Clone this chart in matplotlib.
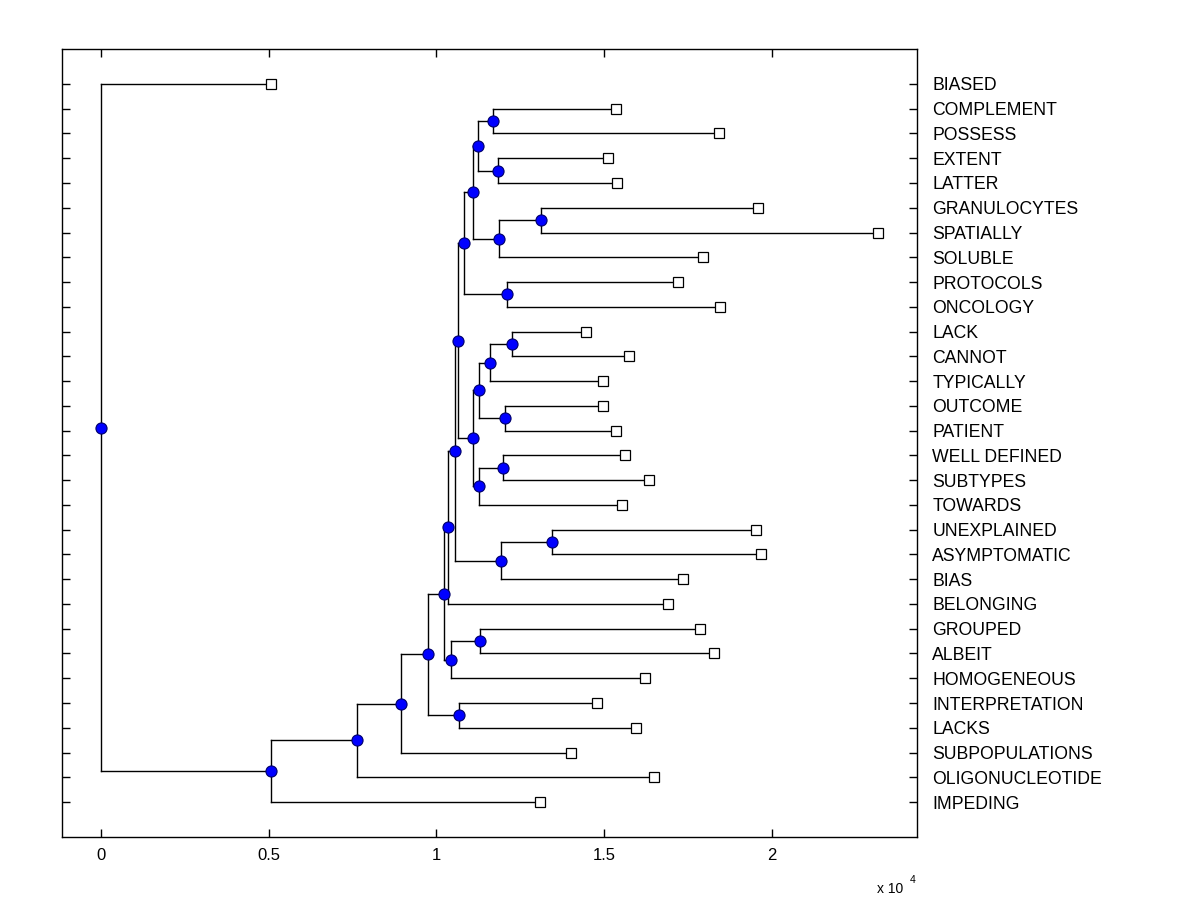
import matplotlib
matplotlib.use('Agg')
import matplotlib.pyplot as plt
from matplotlib.ticker import FuncFormatter

plt.rcParams['font.family'] = ['Liberation Sans', 'DejaVu Sans']

# leaves, top to bottom
labels = ['BIASED', 'COMPLEMENT', 'POSSESS', 'EXTENT', 'LATTER',
          'GRANULOCYTES', 'SPATIALLY', 'SOLUBLE', 'PROTOCOLS', 'ONCOLOGY',
          'LACK', 'CANNOT', 'TYPICALLY', 'OUTCOME', 'PATIENT',
          'WELL DEFINED', 'SUBTYPES', 'TOWARDS', 'UNEXPLAINED', 'ASYMPTOMATIC',
          'BIAS', 'BELONGING', 'GROUPED', 'ALBEIT', 'HOMOGENEOUS',
          'INTERPRETATION', 'LACKS', 'SUBPOPULATIONS', 'OLIGONUCLEOTIDE', 'IMPEDING']
leaf_x = [5060, 15340, 18430, 15100, 15370,
          19590, 23160, 17930, 17210, 18460,
          14470, 15750, 14950, 14950, 15340,
          15630, 16320, 15520, 19530, 19680,
          17360, 16900, 17860, 18270, 16210,
          14770, 15950, 14020, 16490, 13090]

# merges: child ids (leaves are 0..29, each merge adds node 30, 31, ...)
merge_a = [1, 3, 30, 5, 33, 32, 8, 35, 10, 38, 13, 39, 15, 42, 41, 37,
           18, 46, 45, 48, 22, 50, 49, 25, 52, 54, 55, 56, 0]
merge_b = [2, 4, 31, 6, 7, 34, 9, 36, 11, 12, 14, 40, 16, 17, 43, 44,
           19, 20, 47, 21, 23, 24, 51, 26, 53, 27, 28, 29, 57]
merge_x = [11680, 11820, 11230, 13100, 11850, 11080, 12090, 10810,
           12240, 11590, 12030, 11260, 11970, 11260, 11080, 10650,
           13430, 11910, 10540, 10340, 11290, 10420, 10220, 10660,
           9740, 8930, 7620, 5060, 0]

n = len(labels)
xs = list(leaf_x)
ys = list(range(1, n + 1))
for a, b, h in zip(merge_a, merge_b, merge_x):
    xs.append(h)
    ys.append((ys[a] + ys[b]) / 2.0)

fig = plt.figure(figsize=(12, 9), dpi=100)
ax = fig.add_axes([62/1200, 63/900, 855/1200, 788/900])

lw = 1.0
for k, (a, b) in enumerate(zip(merge_a, merge_b)):
    p = n + k
    ax.plot([xs[p], xs[p]], [ys[a], ys[b]], color='k', lw=lw, zorder=1)
    for c in (a, b):
        ax.plot([xs[p], xs[c]], [ys[c], ys[c]], color='k', lw=lw, zorder=1)

# leaf markers and node markers
ax.plot(xs[:n], ys[:n], 's', ms=6.5, mfc='white', mec='k', mew=0.9,
        ls='none', zorder=3)
ax.plot(xs[n:], ys[n:], 'o', ms=8, mfc='#0000ff', mec='#00006a', mew=0.8,
        ls='none', zorder=3)

xmax = max(xs)
ax.set_xlim(-0.05 * xmax, 1.05 * xmax)
ax.set_ylim(n + 1.41, 1 - 1.41)

ax.set_xticks([0, 5000, 10000, 15000, 20000])
ax.xaxis.set_major_formatter(FuncFormatter(lambda v, pos: '%g' % (v / 1e4)))
ax.set_yticks(range(1, n + 1))
ax.set_yticklabels(labels)

ax.tick_params(axis='x', direction='in', length=6, width=1.0, top=True,
               bottom=True, labelsize=12, pad=8)
ax.tick_params(axis='y', direction='in', length=6, width=1.0, left=True,
               right=True, labelleft=False, labelright=True,
               labelsize=12.7, pad=11)
for s in ax.spines.values():
    s.set_linewidth(1.0)

# exponent label, MATLAB style
fig.text(877/1200, 1 - 893/900, 'x 10', fontsize=10, va='baseline')
fig.text(910/1200, 1 - 883/900, '4', fontsize=7.5, va='baseline')

fig.savefig('out.png', dpi=100)
